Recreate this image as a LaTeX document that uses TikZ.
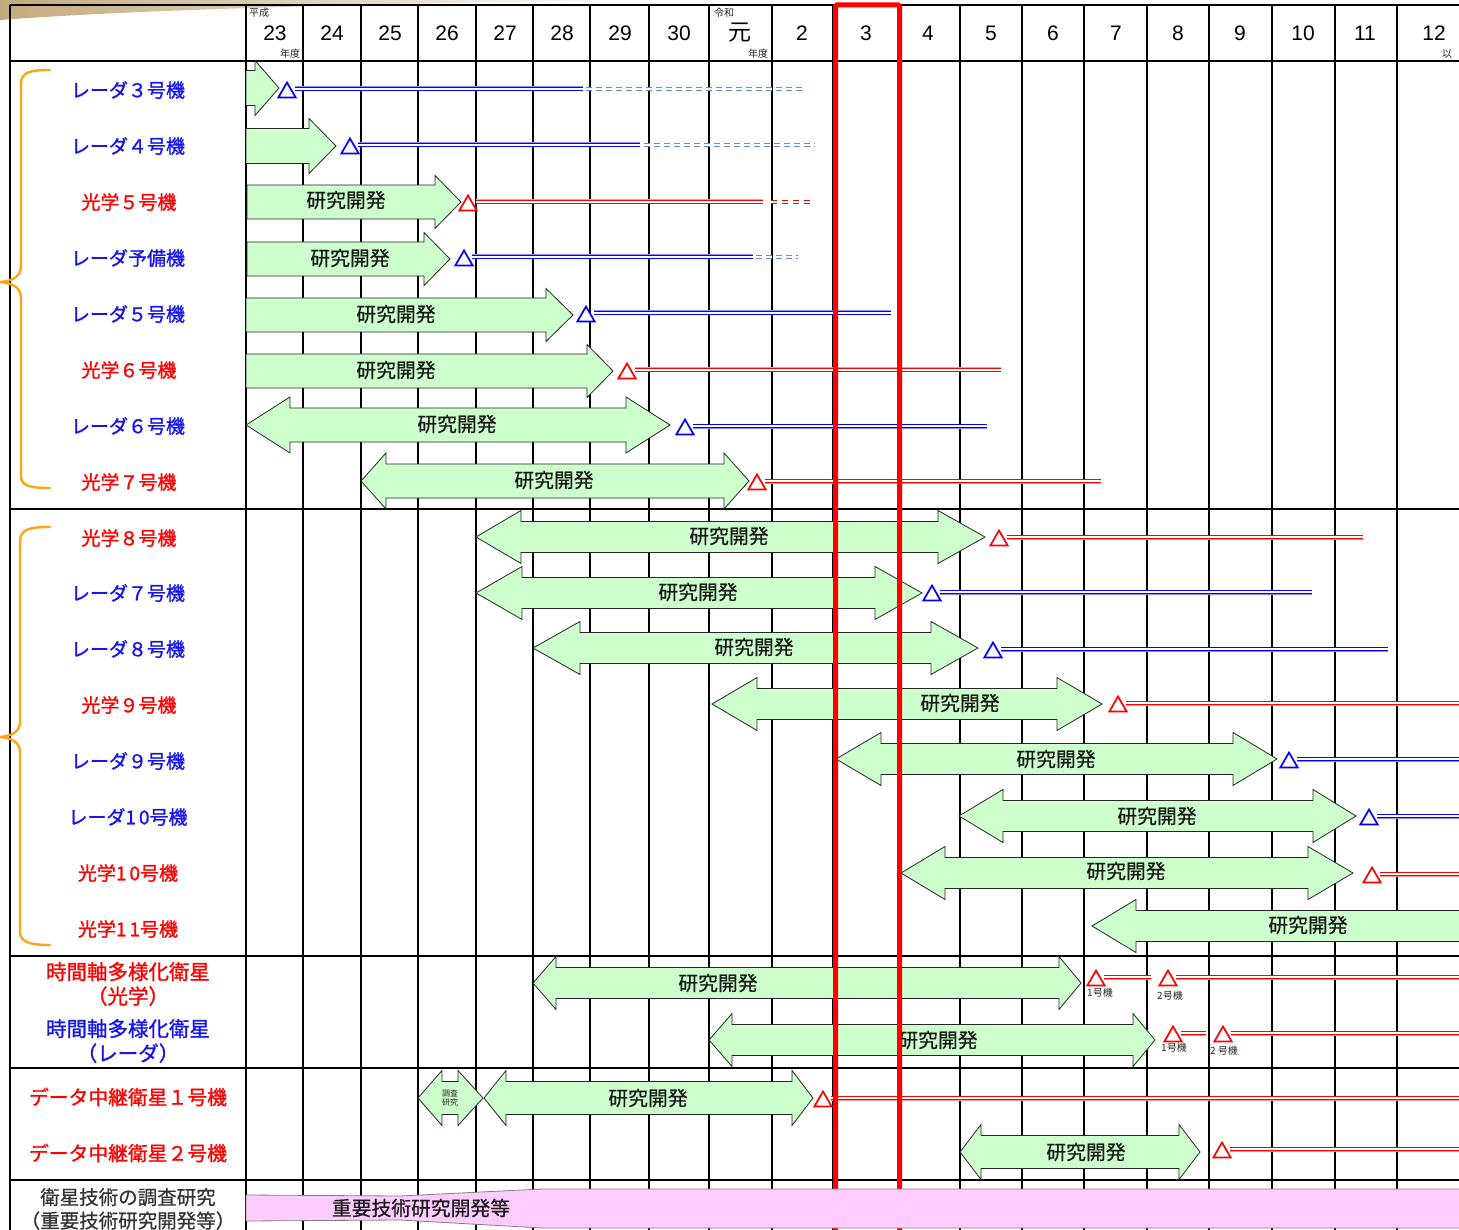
\documentclass[tikz,border=0pt]{standalone}
\usepackage{fontspec}
\setmainfont{Noto Sans CJK JP}
\newfontfamily\arialf{Liberation Sans}
\newfontfamily\boldish{Noto Sans CJK JP}[FakeBold=1.2]
\newfontfamily\semib{Noto Sans CJK JP}[FakeBold=0.6]
\usetikzlibrary{calc,shapes.geometric}
\definecolor{gfill}{RGB}{204,255,204}
\definecolor{pfill}{RGB}{255,204,255}
\definecolor{lblue}{RGB}{20,20,240}
\definecolor{lred}{RGB}{255,0,0}
\definecolor{bhal}{RGB}{140,140,255}
\definecolor{rhal}{RGB}{255,150,150}
\definecolor{dblue}{RGB}{90,140,220}
\definecolor{bracec}{RGB}{255,165,20}
\definecolor{tanc}{RGB}{195,170,125}
\def\hb{17}\def\hh{27}
\newcommand\DArr[5]{\filldraw[garrow] (#1,#5) -- (#2,#5-\hh) -- (#2,#5-\hb) -- (#3,#5-\hb) -- (#3,#5-\hh) -- (#4,#5) -- (#3,#5+\hh) -- (#3,#5+\hb) -- (#2,#5+\hb) -- (#2,#5+\hh) -- cycle;}
\newcommand\RArr[4]{\filldraw[garrow] (#1,#4-\hb) -- (#2,#4-\hb) -- (#2,#4-\hh) -- (#3,#4) -- (#2,#4+\hh) -- (#2,#4+\hb) -- (#1,#4+\hb) -- cycle;}
\newcommand\LArr[4]{\filldraw[garrow] (#3,#4-\hb) -- (#2,#4-\hb) -- (#2,#4-\hh) -- (#1,#4) -- (#2,#4+\hh) -- (#2,#4+\hb) -- (#3,#4+\hb) -- cycle;}
% #1 colour prefix, #2 triangle node, #3 end x
\newcommand\SL[3]{\coordinate (#2s) at ($(#2.center)+(8,-3.5)$);
  \draw[#1halo] (#2s) -- (#3,0 |- #2s);
  \draw[#1line] (#2s) -- (#3,0 |- #2s);}
\newcommand\DL[4]{\draw[#1dash] (#3,0 |- #2s) -- (#4,0 |- #2s);}
\begin{document}
\begin{tikzpicture}[x=1pt,y=-1pt,
  garrow/.style={fill=gfill,draw=black!85,line width=0.8pt,line join=miter},
  gtext/.style={font=\semib\fontsize{19.8}{21}\selectfont,inner sep=0pt,text=black!90},
  lbl/.style={font=\boldish\fontsize{19}{23}\selectfont,inner sep=0pt,align=center},
  small/.style={font=\fontsize{10}{11}\selectfont,inner sep=0pt,text=black!85},
  yr/.style={font=\arialf\fontsize{21}{22}\selectfont,inner sep=0pt},
  tri/.style={regular polygon,regular polygon sides=3,draw=#1,line width=1.7pt,minimum size=20pt,inner sep=0pt,fill=white},
  bhalo/.style={draw=bhal,line width=5pt},
  bline/.style={draw=blue,double=white,line width=1.1pt,double distance=1.2pt},
  rhalo/.style={draw=rhal,line width=5pt},
  rline/.style={draw=red,double=white,line width=1.1pt,double distance=1.2pt},
  bdash/.style={draw=dblue,double=white,line width=1.2pt,double distance=1.2pt,dash pattern=on 6pt off 4pt},
  rdash/.style={draw=red,double=white,line width=1.2pt,double distance=1.2pt,dash pattern=on 6pt off 5pt},
  gridl/.style={draw=black,line width=1.1pt},
  sect/.style={draw=black,line width=2pt},
  brc/.style={draw=bracec,line width=2.4pt,line cap=round}]
\useasboundingbox (0,0) rectangle (1459,1230);
\clip (0,0) rectangle (1459,1230);
% decorative top band
\shade[left color=tanc,right color=white] (0,0) -- (640,0) .. controls (420,3) and (160,8) .. (0,20) -- cycle;
% grid
\foreach \x in {303,361,418,476,533,590,649,709,772,833,899,960,1022,1084,1147,1209,1272,1335,1397}
  \draw[gridl] (\x,5) -- (\x,1230);
\draw[sect] (246,5) -- (246,1230);
\draw[gridl] (10,5) -- (10,1230);
\draw[sect] (10,5) -- (1459,5);
\foreach \y in {61,509,956,1068,1180} \draw[sect] (10,\y) -- (1459,\y);
% header
\foreach \x/\t in {275/23,332/24,390/25,447/26,505/27,562/28,620/29,679/30,802/2,866/3,928/4,991/5,1053/6,1116/7,1178/8,1240/9,1303/10,1365/11,1434/12}
  \node[yr] (y\t) at (\x,33) {\t};
\node[font=\fontsize{23}{24}\selectfont,inner sep=0pt] (ygan) at (740,33) {元};
\node[small] (hs) at (259,13) {平成};
\node[small] (hn1) at (290,54) {年度};
\node[small] (rw) at (724,13) {令和};
\node[small] (hn2) at (758,54) {年度};
\node[small] (ik) at (1447,54) {以};
% ---------- arrows section 1
\def\hb{17.5}\def\hh{27.5}
\RArr{246}{255}{279}{88}
\RArr{246}{309}{336}{146}
\def\hb{17}\def\hh{26.5}
\RArr{247}{435}{461}{202}  \node[gtext] (g3) at (346,200) {研究開発};
\RArr{247}{424}{450}{259}  \node[gtext] (g4) at (350,258) {研究開発};
\RArr{246}{546}{573}{315}  \node[gtext] (g5) at (396,314) {研究開発};
\RArr{246}{587}{613}{371}  \node[gtext] (g6) at (396,370) {研究開発};
\def\hh{28}
\DArr{246}{290}{626}{670}{425}  \node[gtext] (g7) at (457,424) {研究開発};
\DArr{361}{386}{724}{749}{481}  \node[gtext] (g8) at (554,480) {研究開発};
% ---------- arrows section 2
\def\hb{15.5}\def\hh{26.5}
\DArr{476}{521}{938}{985}{537}   \node[gtext] (g9) at (729,536) {研究開発};
\DArr{476}{522}{875}{922}{593}   \node[gtext] (g10) at (698,592) {研究開発};
\DArr{533}{580}{931}{978}{648}   \node[gtext] (g11) at (754,647) {研究開発};
\DArr{712}{757}{1057}{1102}{704} \node[gtext] (g12) at (960,703) {研究開発};
\DArr{836}{881}{1233}{1277}{759} \node[gtext] (g13) at (1056,759) {研究開発};
\DArr{959}{1003}{1313}{1356}{816} \node[gtext] (g14) at (1157,816) {研究開発};
\DArr{901}{945}{1308}{1353}{873} \node[gtext] (g15) at (1126,871) {研究開発};
\LArr{1092}{1136}{1470}{926}     \node[gtext] (g16) at (1308,925) {研究開発};
\DArr{533}{556}{1059}{1081}{983} \node[gtext] (g17) at (718,983) {研究開発};
\DArr{709}{732}{1133}{1155}{1040} \node[gtext] (g18) at (938,1040) {研究開発};
\def\hb{16.5}\def\hh{27.5}
\DArr{418}{442}{458}{483}{1098}
\node[font=\fontsize{8}{9.5}\selectfont,inner sep=0pt,align=center,text=black!85] (cs) at (450,1098) {調査\\研究};
\DArr{484}{506}{792}{813}{1098}  \node[gtext] (g19) at (648,1098) {研究開発};
\DArr{960}{981}{1179}{1200}{1152} \node[gtext] (g20) at (1086,1152) {研究開発};
% ---------- triangles and lines
\node[tri=blue] (t1) at (287,92.5) {};   \SL{b}{t1}{583}  \DL{b}{t1}{586}{805}
\node[tri=blue] (t2) at (350,148.5) {};  \SL{b}{t2}{640}  \DL{b}{t2}{644}{815}
\node[tri=red] (t3) at (468,205.5) {};   \SL{r}{t3}{763}  \DL{r}{t3}{771}{812}
\node[tri=blue] (t4) at (464,260.5) {};  \SL{b}{t4}{753}  \DL{b}{t4}{756}{798}
\node[tri=blue] (t5) at (586,316.5) {};  \SL{b}{t5}{891}
\node[tri=red] (t6) at (627,373.5) {};   \SL{r}{t6}{1001}
\node[tri=blue] (t7) at (685,429.5) {};  \SL{b}{t7}{987}
\node[tri=red] (t8) at (757,484.5) {};   \SL{r}{t8}{1101}
\node[tri=red] (t9) at (999,540.5) {};   \SL{r}{t9}{1363}
\node[tri=blue] (t10) at (932,595.5) {}; \SL{b}{t10}{1312}
\node[tri=blue] (t11) at (993,652.5) {}; \SL{b}{t11}{1388}
\node[tri=red] (t12) at (1118,706.5) {}; \SL{r}{t12}{1470}
\node[tri=blue] (t13) at (1289,762.5) {}; \SL{b}{t13}{1470}
\node[tri=blue] (t14) at (1369,819.5) {}; \SL{b}{t14}{1470}
\node[tri=red] (t15) at (1372,877.5) {};  \SL{r}{t15}{1470}
\node[tri=red] (t17a) at (1096,980.5) {}; \SL{r}{t17a}{1151}
\node[tri=red] (t17b) at (1168,980.5) {}; \SL{r}{t17b}{1470}
\node[tri=red] (t18a) at (1173,1036.5) {}; \SL{r}{t18a}{1206}
\node[tri=red] (t18b) at (1223,1036.5) {}; \SL{r}{t18b}{1470}
\node[tri=red] (t19) at (823,1101.5) {};  \SL{r}{t19}{1470}
\node[tri=red] (t20) at (1222,1152.5) {}; \SL{r}{t20}{1470}
\node[small] (k1a) at (1100,993) {1号機};
\node[small] (k1b) at (1170,996) {2号機};
\node[small] (k2a) at (1174,1048) {1号機};
\node[small] (k2b) at (1224,1051) {2 号機};
% ---------- red box
\draw[red,line width=5pt,rounded corners=1.5pt] (835.5,1240) -- (835.5,5) -- (899.5,5) -- (899.5,1240);
% ---------- pink band
\filldraw[fill=pfill,draw=black!50,line width=0.8pt] (246,1195) -- (400,1196) -- (542,1189) -- (1470,1189) -- (1470,1228) -- (542,1228) -- (400,1220) -- (246,1221) -- cycle;
\node[gtext] (pk) at (421,1208) {重要技術研究開発等};
% ---------- labels
\node[lbl,text=lblue] (l1) at (128,90) {レーダ３号機};
\node[lbl,text=lblue] (l2) at (128,146) {レーダ４号機};
\node[lbl,text=lred] (l3) at (129,202) {光学５号機};
\node[lbl,text=lblue] (l4) at (128,258) {レーダ予備機};
\node[lbl,text=lblue] (l5) at (128,314) {レーダ５号機};
\node[lbl,text=lred] (l6) at (129,370) {光学６号機};
\node[lbl,text=lblue] (l7) at (128,426) {レーダ６号機};
\node[lbl,text=lred] (l8) at (129,482) {光学７号機};
\node[lbl,text=lred] (l9) at (129,538) {光学８号機};
\node[lbl,text=lblue] (l10) at (128,593) {レーダ７号機};
\node[lbl,text=lblue] (l11) at (128,649) {レーダ８号機};
\node[lbl,text=lred] (l12) at (129,705) {光学９号機};
\node[lbl,text=lblue] (l13) at (128,761) {レーダ９号機};
\node[lbl,text=lblue] (l14) at (128,817) {レーダ1\kern3pt0号機};
\node[lbl,text=lred] (l15) at (128,873) {光学1\kern3pt0号機};
\node[lbl,text=lred] (l16) at (128,929) {光学1\kern3pt1号機};
\node[lbl,text=lred,font=\boldish\fontsize{20.5}{24.5}\selectfont] (l17) at (128,984) {時間軸多様化衛星\\（光学）};
\node[lbl,text=lblue,font=\boldish\fontsize{20.5}{24.5}\selectfont] (l18) at (128,1041) {時間軸多様化衛星\\（レーダ）};
\node[lbl,text=lred,font=\boldish\fontsize{19.8}{23}\selectfont] (l19) at (128,1097) {データ中継衛星１号機};
\node[lbl,text=lred,font=\boldish\fontsize{19.8}{23}\selectfont] (l20) at (128,1153) {データ中継衛星２号機};
\node[lbl,text=black!80,font=\semib\fontsize{19.5}{23.5}\selectfont] (l21) at (128,1209) {衛星技術の調査研究\\（重要技術研究開発等）};
% ---------- braces
\draw[brc] (50,70) .. controls (30,70) and (21,72) .. (21,84) -- (21,266) .. controls (21,278) and (10,281) .. (0,282) .. controls (10,283) and (21,286) .. (21,298) -- (21,476) .. controls (21,486) and (30,488) .. (50,488);
\draw[brc] (50,527) .. controls (30,527) and (20,529) .. (20,541) -- (20,722) .. controls (20,733) and (10,736) .. (0,737) .. controls (10,738) and (20,741) .. (20,752) -- (20,932) .. controls (20,942) and (30,945) .. (50,945);
\end{tikzpicture}
\end{document}
